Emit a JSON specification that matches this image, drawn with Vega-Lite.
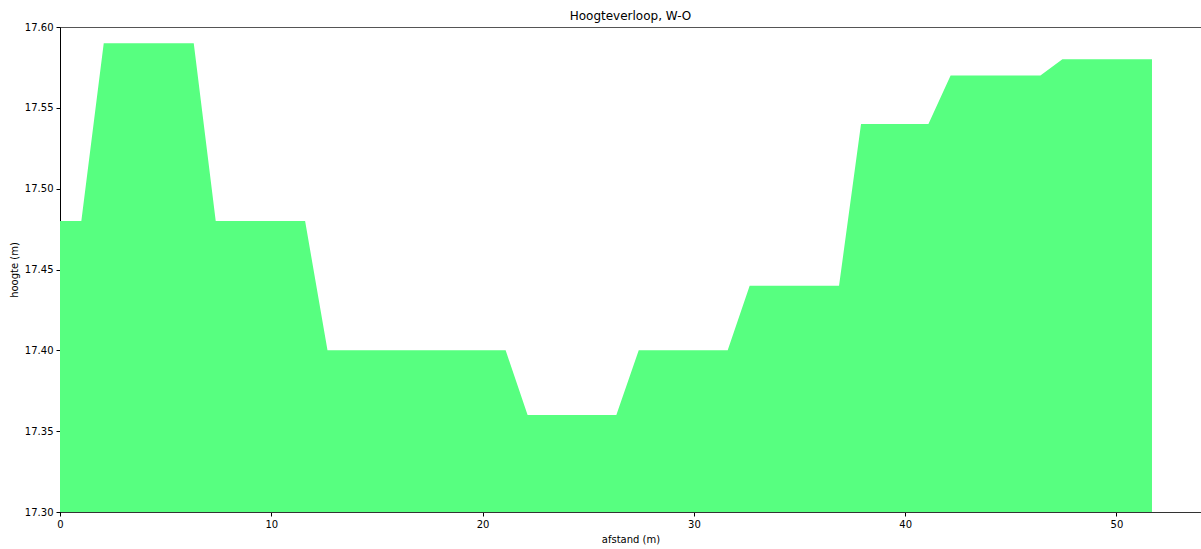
{
  "$schema": "https://vega.github.io/schema/vega-lite/v6.json",
  "width": 1141,
  "height": 485,
  "autosize": {"type": "none"},
  "padding": {"left": 60, "top": 27, "right": 0, "bottom": 37},
  "background": "white",
  "title": {"text": "Hoogteverloop, W-O", "font": "DejaVu Sans", "fontSize": 12, "fontWeight": "normal", "color": "black", "anchor": "middle", "offset": -1},
  "config": {
    "view": {"stroke": "#555", "strokeWidth": 1},
    "axis": {"labelFont": "DejaVu Sans", "labelFontSize": 10, "labelColor": "black", "titleFont": "DejaVu Sans", "titleFontSize": 10, "titleFontWeight": "normal", "titleColor": "black", "tickColor": "black", "tickSize": 4, "domainColor": "#333", "grid": false, "labelFlush": false}
  },
  "data": {"values": [
    {"afstand": 0, "hoogte": 17.48},
    {"afstand": 1.01, "hoogte": 17.48},
    {"afstand": 2.07, "hoogte": 17.59},
    {"afstand": 6.33, "hoogte": 17.59},
    {"afstand": 7.37, "hoogte": 17.48},
    {"afstand": 11.6, "hoogte": 17.48},
    {"afstand": 12.66, "hoogte": 17.40},
    {"afstand": 21.09, "hoogte": 17.40},
    {"afstand": 22.13, "hoogte": 17.36},
    {"afstand": 26.33, "hoogte": 17.36},
    {"afstand": 27.39, "hoogte": 17.40},
    {"afstand": 31.6, "hoogte": 17.40},
    {"afstand": 32.64, "hoogte": 17.44},
    {"afstand": 36.87, "hoogte": 17.44},
    {"afstand": 37.91, "hoogte": 17.54},
    {"afstand": 41.1, "hoogte": 17.54},
    {"afstand": 42.15, "hoogte": 17.57},
    {"afstand": 46.4, "hoogte": 17.57},
    {"afstand": 47.44, "hoogte": 17.58},
    {"afstand": 51.68, "hoogte": 17.58}
  ]},
  "mark": {"type": "area", "color": "#57ff80", "interpolate": "linear", "clip": true},
  "encoding": {
    "x": {"field": "afstand", "type": "quantitative", "title": "afstand (m)",
      "scale": {"domain": [0, 54], "nice": false, "zero": false},
      "axis": {"values": [0, 10, 20, 30, 40, 50], "format": "d", "titlePadding": 5, "labelPadding": 3}},
    "y": {"field": "hoogte", "type": "quantitative", "title": "hoogte (m)",
      "scale": {"domain": [17.3, 17.6], "nice": false, "zero": false},
      "axis": {"values": [17.3, 17.35, 17.4, 17.45, 17.5, 17.55, 17.6], "format": ".2f", "titlePadding": 5, "labelPadding": 3, "domainColor": "black"}},
    "y2": {"datum": 17.3}
  }
}
